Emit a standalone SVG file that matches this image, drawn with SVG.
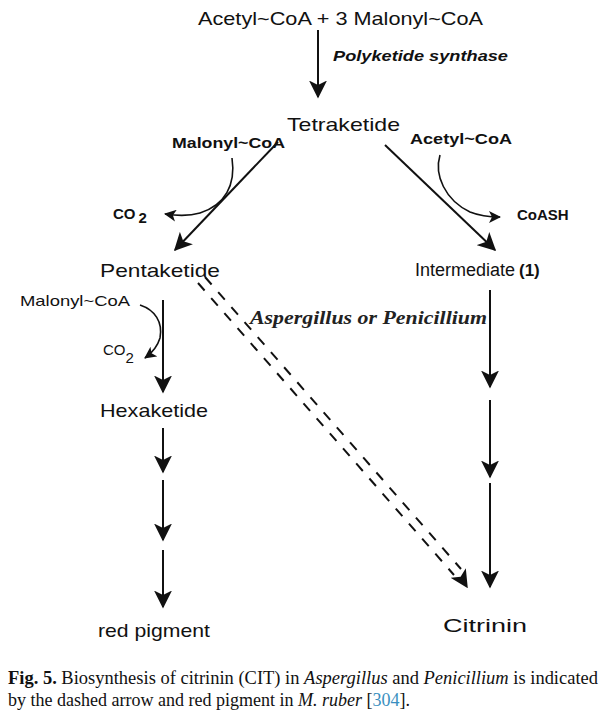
<svg xmlns="http://www.w3.org/2000/svg" width="600" height="711" viewBox="0 0 600 711">
<style>
.t{font-family:"Liberation Sans",Arial,sans-serif;fill:#111;font-size:19px}
.s{font-family:"Liberation Sans",Arial,sans-serif;fill:#111;font-size:15px;font-weight:bold}
.l{stroke:#111;stroke-width:2;fill:none}
.c{stroke:#111;stroke-width:1.6;fill:none}
.cap{font-family:"Liberation Serif","Times New Roman",serif;fill:#111;font-size:18px}
</style>
<defs>
<marker id="big" viewBox="0 0 12 12" refX="11" refY="6" markerWidth="12" markerHeight="12" markerUnits="userSpaceOnUse" orient="auto"><path d="M0,0 L12,6 L0,12 L3,6 Z" fill="#111"/></marker>
<marker id="bigger" viewBox="0 0 12 12" refX="11" refY="6" markerWidth="18" markerHeight="18" markerUnits="userSpaceOnUse" orient="auto"><path d="M0,0 L12,6 L0,12 L3,6 Z" fill="#111"/></marker>
</defs>
<g id="nodes">
<g id="n-start"><text class="t" x="198" y="25" textLength="285" lengthAdjust="spacingAndGlyphs">Acetyl~CoA + 3 Malonyl~CoA</text></g>
<g id="n-pks"><text x="333" y="61" textLength="175" lengthAdjust="spacingAndGlyphs" style="font-family:'Liberation Sans',Arial,sans-serif;font-size:15px;font-weight:bold;font-style:italic" fill="#111">Polyketide synthase</text></g>
<g id="n-tetra"><text class="t" x="287" y="131" textLength="113" lengthAdjust="spacingAndGlyphs">Tetraketide</text></g>
<g id="n-mal1"><text class="s" x="172" y="148" textLength="113" lengthAdjust="spacingAndGlyphs">Malonyl~CoA</text></g>
<g id="n-acet"><text class="s" x="410" y="144" textLength="102" lengthAdjust="spacingAndGlyphs">Acetyl~CoA</text></g>
<g id="n-co2a"><text class="s" x="113" y="219">CO<tspan dx="3" dy="4">2</tspan></text></g>
<g id="n-coash"><text class="s" x="517" y="220">CoASH</text></g>
<g id="n-penta"><text class="t" x="100" y="277" textLength="120" lengthAdjust="spacingAndGlyphs">Pentaketide</text></g>
<g id="n-inter"><text class="t" x="415" y="276" style="font-size:18px">Intermediate</text><text class="t" x="519" y="276" style="font-size:17px;font-weight:bold">(1)</text></g>
<g id="n-mal2"><text class="s" x="20" y="306" textLength="110" lengthAdjust="spacingAndGlyphs" style="font-weight:normal">Malonyl~CoA</text></g>
<g id="n-co2b"><text class="s" x="103" y="355" style="font-weight:normal">CO<tspan dy="8">2</tspan></text></g>
<g id="n-hexa"><text class="t" x="100" y="417" textLength="108" lengthAdjust="spacingAndGlyphs">Hexaketide</text></g>
<g id="n-red"><text class="t" x="98" y="637" textLength="112" lengthAdjust="spacingAndGlyphs">red pigment</text></g>
<g id="n-cit"><text class="t" x="443" y="632" textLength="84" lengthAdjust="spacingAndGlyphs">Citrinin</text></g>
<g id="n-asp"><text x="250" y="324" textLength="237" lengthAdjust="spacingAndGlyphs" style="font-family:'Liberation Serif','Times New Roman',serif;font-size:18px;font-weight:bold;font-style:italic" fill="#222">Aspergillus or Penicillium</text></g>
</g>
<g id="connectors">
<line class="l" x1="318" y1="30" x2="318" y2="97" marker-end="url(#bigger)"/>
<line class="l" x1="278" y1="142" x2="175" y2="250" marker-end="url(#bigger)"/>
<path class="c" d="M232,158 C236,185 225,205 200,213 C190,216 178,216 165,214" marker-end="url(#big)"/>
<line class="l" x1="385" y1="145" x2="495" y2="250" marker-end="url(#bigger)"/>
<path class="c" d="M440,155 C434,175 445,200 470,212 C480,216 492,217 500,217" marker-end="url(#big)"/>
<line class="l" x1="163" y1="300" x2="163" y2="392" marker-end="url(#bigger)"/>
<path class="c" d="M140,305 C155,310 163,322 160,338 C157,348 152,353 145,358" marker-end="url(#big)"/>
<line class="l" x1="163" y1="428" x2="163" y2="472" marker-end="url(#bigger)"/>
<line class="l" x1="163" y1="480" x2="163" y2="540" marker-end="url(#bigger)"/>
<line class="l" x1="163" y1="550" x2="163" y2="607" marker-end="url(#bigger)"/>
<line class="l" x1="490" y1="290" x2="490" y2="387" marker-end="url(#bigger)"/>
<line class="l" x1="490" y1="400" x2="490" y2="477" marker-end="url(#bigger)"/>
<line class="l" x1="490" y1="483" x2="490" y2="587" marker-end="url(#bigger)"/>
<g stroke="#111" stroke-width="2" stroke-dasharray="10,10" fill="none">
<line x1="198" y1="283" x2="454" y2="575"/>
<line x1="205" y1="277" x2="461" y2="569"/>
</g>
<line x1="455" y1="568" x2="467" y2="587" stroke="none" marker-end="url(#bigger)"/>
</g>
<g id="caption">
<text class="cap" x="8" y="684" textLength="590" lengthAdjust="spacingAndGlyphs"><tspan font-weight="bold">Fig. 5.</tspan> Biosynthesis of citrinin (CIT) in <tspan font-style="italic">Aspergillus</tspan> and <tspan font-style="italic">Penicillium</tspan> is indicated</text>
<text class="cap" x="8" y="706">by the dashed arrow and red pigment in <tspan font-style="italic">M. ruber</tspan> [<tspan fill="#3a8fc0">304</tspan>].</text>
</g>
</svg>
